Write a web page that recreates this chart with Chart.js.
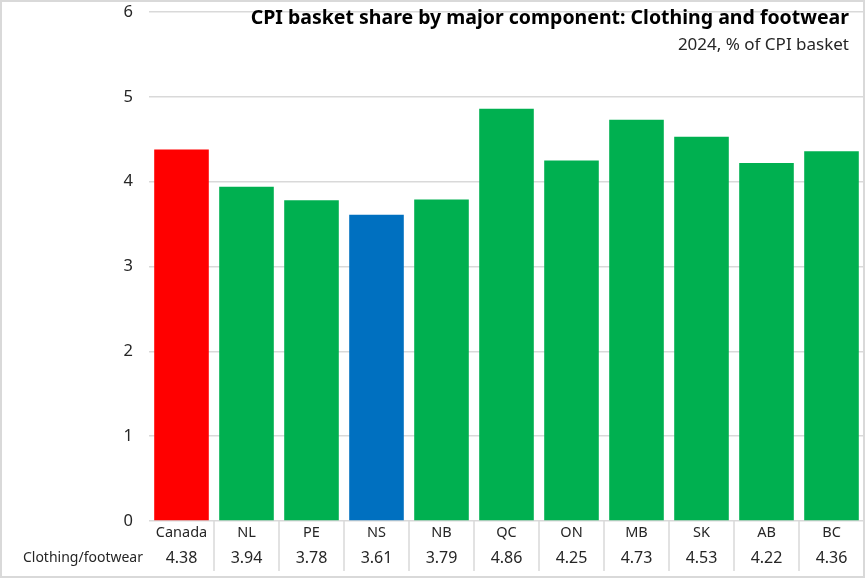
<!DOCTYPE html>
<html>
<head>
<meta charset="utf-8">
<script src="https://cdn.jsdelivr.net/npm/chart.js@4"></script>
<style>
  html, body { margin: 0; padding: 0; background: #fff; }
  #wrap { width: 865px; height: 578px; position: relative; }
</style>
</head>
<body>
<div id="wrap"><canvas id="cpiChart"></canvas></div>
<script>
// ---- data ----
const regions = ["Canada", "NL", "PE", "NS", "NB", "QC", "ON", "MB", "SK", "AB", "BC"];
const clothingShare = [4.38, 3.94, 3.78, 3.61, 3.79, 4.86, 4.25, 4.73, 4.53, 4.22, 4.36];
const yTicks = [0, 1, 2, 3, 4, 5, 6];
const seriesName = "Clothing/footwear";
const titleText = "CPI basket share by major component: Clothing and footwear";
const subtitleText = "2024, % of CPI basket";

const FONT = "'Noto Sans', 'Open Sans', sans-serif";
const GRID = "#d9d9d9";
const TEXT = "#262626";

// Canada red, Nova Scotia blue, everything else green
const barColors = regions.map((r) =>
  r === "Canada" ? "#ff0000" : r === "NS" ? "#0070c0" : "#00b050"
);

// y tick labels, data table under the axis, title block and frame
const tablePlugin = {
  id: "tableAndTitle",
  afterDraw(chart) {
    const { ctx, chartArea } = chart;
    const x = chart.scales.x;
    const y = chart.scales.y;
    const base = chartArea.bottom;

    ctx.save();
    ctx.textBaseline = "middle";

    // y tick labels
    ctx.fillStyle = TEXT;
    ctx.textAlign = "right";
    ctx.font = `16.5px ${FONT}`;
    yTicks.forEach((v) => ctx.fillText(String(v), 133, y.getPixelForValue(v)));

    // column separators
    ctx.strokeStyle = GRID;
    ctx.lineWidth = 1.5;
    for (let i = 1; i < regions.length; i++) {
      const sx = (x.getPixelForValue(i - 1) + x.getPixelForValue(i)) / 2;
      ctx.beginPath();
      ctx.moveTo(sx, base);
      ctx.lineTo(sx, base + 50);
      ctx.stroke();
    }

    // category names + values
    ctx.textAlign = "center";
    regions.forEach((r, i) => {
      const cx = x.getPixelForValue(i);
      ctx.font = `14.5px ${FONT}`;
      ctx.fillText(r, cx, base + 12);
      ctx.font = `16px ${FONT}`;
      ctx.fillText(clothingShare[i].toFixed(2), cx, base + 37);
    });
    ctx.textAlign = "right";
    ctx.font = `14px ${FONT}`;
    ctx.fillText(seriesName, chartArea.left - 6, base + 37);

    // title block (top right)
    ctx.fillStyle = "#000";
    ctx.font = `bold 19.5px ${FONT}`;
    ctx.fillText(titleText, 849, 18);
    ctx.fillStyle = TEXT;
    ctx.font = `17px ${FONT}`;
    ctx.fillText(subtitleText, 849, 45);

    // outer frame
    ctx.strokeStyle = GRID;
    ctx.lineWidth = 2;
    ctx.strokeRect(1, 1, chart.width - 2, chart.height - 2);
    ctx.restore();
  },
};

new Chart(document.getElementById("cpiChart"), {
  type: "bar",
  data: {
    labels: regions,
    datasets: [
      {
        label: seriesName,
        data: clothingShare,
        backgroundColor: barColors,
        barPercentage: 0.84,
        categoryPercentage: 1,
      },
    ],
  },
  options: {
    responsive: true,
    maintainAspectRatio: false,
    animation: false,
    layout: { padding: { top: 12, right: 1, bottom: 49, left: 0 } },
    plugins: {
      legend: { display: false },
      tooltip: { enabled: false },
    },
    scales: {
      x: {
        ticks: { display: false },
        grid: { display: false },
        border: { display: false },
      },
      y: {
        min: 0,
        max: 6,
        afterFit: (scale) => { scale.width = 149; },
        afterBuildTicks: (scale) => { scale.ticks = yTicks.map((v) => ({ value: v })); },
        ticks: { display: false },
        grid: { color: GRID, lineWidth: 1.5, drawTicks: false },
        border: { display: false },
      },
    },
  },
  plugins: [tablePlugin],
});
</script>
</body>
</html>
